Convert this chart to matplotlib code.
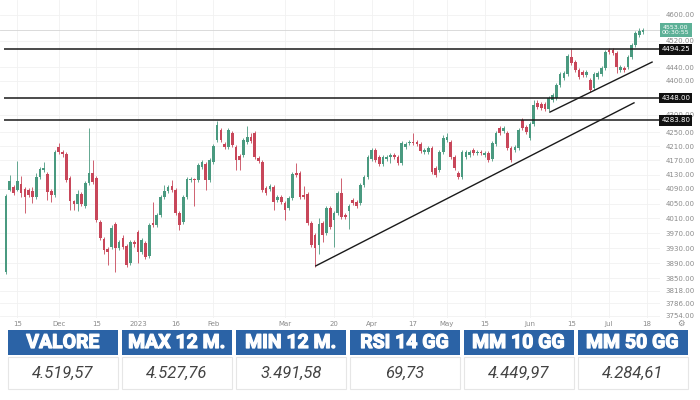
import numpy as np
import matplotlib
matplotlib.use("Agg")
import matplotlib.pyplot as plt
import matplotlib.transforms as mtransforms
import matplotlib.patheffects as pe
from matplotlib.patches import Rectangle
from matplotlib.ticker import FixedLocator, FixedFormatter, NullLocator

# daily candles (log price scale)
opens = [3867, 4087, 4096, 4087, 4104, 4090, 4087, 4085, 4068, 4123,
         4143, 4132, 4085, 4074, 4208, 4194, 4188, 4121, 4057, 4049,
         4076, 4043, 4107, 4135, 4121, 4000, 3954, 3928, 3933, 3995,
         3930, 3957, 3936, 3891, 3946, 3973, 3920, 3944, 3909, 3997,
         3992, 4019, 4068, 4085, 4098, 4087, 4024, 4000, 4068, 4115,
         4118, 4115, 4151, 4160, 4115, 4165, 4228, 4256, 4216, 4208,
         4248, 4208, 4182, 4185, 4222, 4236, 4248, 4177, 4165, 4093,
         4090, 4096, 4060, 4068, 4052, 4038, 4065, 4135, 4135, 4074,
         4076, 3997, 3965, 3938, 3997, 3970, 4038, 4005, 4024, 4079,
         4019, 4030, 4060, 4054, 4052, 4101, 4123, 4174, 4199, 4180,
         4160, 4174, 4180, 4185, 4180, 4163, 4208, 4219, 4222, 4222,
         4216, 4194, 4194, 4205, 4149, 4143, 4194, 4228, 4222, 4180,
         4135, 4123, 4180, 4185, 4199, 4191, 4194, 4185, 4191, 4174,
         4216, 4262, 4253, 4248, 4205, 4199, 4205, 4285, 4265, 4233,
         4274, 4335, 4332, 4332, 4317, 4343, 4349, 4388, 4408, 4420,
         4471, 4456, 4432, 4426, 4417, 4402, 4379, 4411, 4420, 4438,
         4492, 4492, 4483, 4432, 4438, 4441, 4471, 4508, 4538, 4547]
highs = [4076, 4129, 4101, 4168, 4126, 4095, 4093, 4096, 4135, 4152,
         4165, 4137, 4090, 4199, 4219, 4199, 4194, 4126, 4060, 4087,
         4082, 4112, 4262, 4171, 4126, 4005, 3960, 3933, 3992, 4000,
         3952, 3965, 3941, 3952, 3952, 3978, 3957, 3949, 3997, 4054,
         4024, 4074, 4101, 4101, 4115, 4093, 4030, 4074, 4123, 4123,
         4121, 4162, 4171, 4165, 4177, 4216, 4282, 4262, 4222, 4262,
         4253, 4214, 4188, 4233, 4268, 4248, 4253, 4182, 4171, 4098,
         4104, 4101, 4074, 4074, 4057, 4071, 4137, 4163, 4140, 4098,
         4082, 4003, 3970, 4011, 4003, 4044, 4044, 4030, 4085, 4121,
         4024, 4049, 4065, 4060, 4107, 4129, 4185, 4205, 4205, 4185,
         4185, 4185, 4191, 4191, 4185, 4225, 4222, 4228, 4248, 4228,
         4222, 4205, 4211, 4211, 4154, 4199, 4242, 4248, 4228, 4185,
         4140, 4199, 4199, 4199, 4205, 4199, 4199, 4196, 4196, 4225,
         4253, 4268, 4268, 4253, 4211, 4214, 4262, 4291, 4271, 4280,
         4343, 4343, 4338, 4338, 4355, 4364, 4394, 4426, 4429, 4480,
         4496, 4462, 4438, 4432, 4432, 4408, 4426, 4429, 4444, 4492,
         4498, 4498, 4489, 4447, 4444, 4477, 4514, 4550, 4560, 4560]
lows = [3862, 4084, 4074, 4084, 4068, 4024, 4068, 4052, 4063, 4118,
        4138, 4060, 4054, 4068, 4188, 4180, 4110, 4033, 4033, 4030,
        4044, 4038, 4101, 4104, 4000, 3952, 3915, 3886, 3928, 3867,
        3925, 3928, 3880, 3886, 3933, 3891, 3915, 3901, 3904, 3987,
        3987, 4014, 4063, 4079, 4082, 4019, 3978, 3995, 4063, 4110,
        4043, 4110, 4146, 4087, 4110, 4160, 4222, 4222, 4202, 4202,
        4208, 4143, 4143, 4180, 4216, 4219, 4174, 4163, 4082, 4074,
        4085, 4033, 4054, 4049, 4005, 4033, 4060, 4123, 4063, 4063,
        3992, 3933, 3880, 3915, 3946, 3965, 3981, 3933, 4019, 4008,
        4008, 3981, 4046, 4038, 4046, 4096, 4118, 4168, 4165, 4154,
        4154, 4168, 4163, 4174, 4157, 4157, 4202, 4214, 4214, 4211,
        4191, 4188, 4188, 4132, 4123, 4137, 4188, 4222, 4174, 4143,
        4118, 4118, 4174, 4180, 4185, 4185, 4185, 4180, 4165, 4168,
        4211, 4242, 4248, 4199, 4165, 4194, 4199, 4256, 4245, 4228,
        4268, 4317, 4314, 4311, 4311, 4337, 4343, 4382, 4402, 4414,
        4447, 4426, 4405, 4411, 4411, 4367, 4373, 4405, 4414, 4432,
        4480, 4477, 4423, 4426, 4426, 4435, 4465, 4502, 4532, 4541]
closes = [4071, 4112, 4079, 4112, 4079, 4068, 4074, 4068, 4123, 4146,
          4149, 4082, 4074, 4194, 4194, 4188, 4115, 4057, 4049, 4076,
          4049, 4107, 4135, 4110, 4005, 3957, 3925, 3920, 3984, 3930,
          3946, 3933, 3886, 3946, 3941, 3920, 3952, 3907, 3992, 3992,
          4019, 4068, 4085, 4096, 4087, 4024, 3992, 4068, 4118, 4118,
          4115, 4157, 4165, 4115, 4171, 4211, 4271, 4228, 4208, 4256,
          4214, 4171, 4171, 4228, 4236, 4225, 4180, 4168, 4087, 4079,
          4098, 4054, 4068, 4054, 4033, 4065, 4132, 4129, 4068, 4068,
          3997, 3938, 3930, 3995, 3965, 4038, 3987, 4024, 4079, 4014,
          4014, 4043, 4052, 4043, 4101, 4123, 4180, 4199, 4171, 4160,
          4180, 4180, 4185, 4180, 4163, 4219, 4216, 4222, 4219, 4216,
          4196, 4199, 4205, 4137, 4129, 4194, 4233, 4236, 4180, 4149,
          4123, 4194, 4194, 4194, 4191, 4194, 4191, 4191, 4171, 4219,
          4248, 4248, 4262, 4205, 4171, 4208, 4256, 4262, 4251, 4274,
          4329, 4323, 4320, 4317, 4349, 4358, 4388, 4420, 4423, 4474,
          4453, 4432, 4411, 4417, 4426, 4373, 4420, 4423, 4438, 4486,
          4486, 4483, 4441, 4441, 4432, 4471, 4508, 4544, 4550, 4553]

# date labels on the x axis (candle index, text)
date_pos = [3, 14, 24, 35, 45, 55, 74, 87, 97, 108, 117, 127, 139, 150, 160, 170]
date_lbl = ["15", "Dec", "15", "2023", "16", "Feb", "Mar", "20", "Apr", "17",
            "May", "15", "Jun", "15", "Jul", "18"]

price_ticks = [4600, 4520, 4440, 4400, 4300, 4250, 4210, 4170, 4130, 4090,
               4050, 4010, 3970, 3930, 3890, 3850, 3818, 3786, 3754]

# support / resistance levels and trend lines drawn on the chart
levels = [4494.25, 4348.00, 4283.80]
trend_a_x = [82.2, 166.6]
trend_a_y = [3883, 4335]
trend_b_x = [144.3, 171.4]
trend_b_y = [4308, 4456]

# stats table
head = ["VALORE", "MAX 12 M.", "MIN 12 M.", "RSI 14 GG", "MM 10 GG", "MM 50 GG"]
vals = ["4.519,57", "4.527,76", "3.491,58", "69,73", "4.449,97", "4.284,61"]

GREEN = "#4a9a80"
RED = "#c8475a"
BLUE = "#2b63a6"

fig = plt.figure(figsize=(7, 4), dpi=100)
fig.patch.set_facecolor("white")
ax = fig.add_axes([0, 1 - 318 / 400, 660 / 700, 318 / 400])
ax.set_yscale("log")

o, h, l, c = map(np.array, (opens, highs, lows, closes))
x = np.arange(len(o))
col = np.where(c >= o, GREEN, RED)
ax.vlines(x, l, h, colors=col, linewidth=0.6, zorder=2)
body = np.maximum(np.abs(c - o), 2.0)
ax.bar(x, body, bottom=np.minimum(o, c), width=0.7, color=col, linewidth=0, zorder=3)

ax.set_xlim(-1.6, 173.5)
ax.set_ylim(3748.6, 4646.8)

# last price line
ax.axhline(closes[-1], color="#d4d4d4", lw=0.6, zorder=1)

ax.hlines(levels, -0.6, 173.5, color="#1a1a1a", lw=1.1, zorder=4)
ax.plot(trend_a_x, trend_a_y, color="#1a1a1a", lw=1.0, zorder=4)
ax.plot(trend_b_x, trend_b_y, color="#1a1a1a", lw=1.0, zorder=4)

ax.yaxis.tick_right()
ax.yaxis.set_major_locator(FixedLocator(price_ticks))
ax.yaxis.set_minor_locator(NullLocator())
ax.yaxis.set_major_formatter(FixedFormatter([f"{v:.2f}" for v in price_ticks]))
ax.yaxis.set_minor_formatter(FixedFormatter([]))
ax.set_xticks(date_pos)
ax.set_xticklabels(date_lbl)
ax.tick_params(axis="y", length=0, pad=4, labelsize=5, labelcolor="#8a8a8a")
ax.tick_params(axis="x", length=0, pad=2.5, labelsize=5, labelcolor="#8a8a8a")
for s in ax.spines.values():
    s.set_visible(False)
ax.grid(True, color="#f1f1f1", lw=0.6, zorder=0)
ax.set_axisbelow(True)

trans = mtransforms.blended_transform_factory(ax.transAxes, ax.transData)
for lv in levels:
    ax.text(1.024, lv, f"{lv:.2f}", transform=trans, ha="center", va="center",
            fontsize=5, color="white", clip_on=False, zorder=6,
            bbox=dict(boxstyle="square,pad=0.3", fc="#111111", ec="none"))
ax.text(1.024, closes[-1], f"{closes[-1]:.2f}\n00:30:55", transform=trans,
        ha="center", va="center", fontsize=4.5, color="white", clip_on=False,
        zorder=6, linespacing=1.1,
        bbox=dict(boxstyle="square,pad=0.3", fc="#5cb096", ec="none"))
fig.text(681 / 700, 1 - 323 / 400, "\u2699", fontsize=6, color="#8a8a8a",
         ha="center", va="center")

# table below the chart, in pixel coordinates
tab = fig.add_axes([0, 0, 1, 1], zorder=5)
tab.set_xlim(0, 700)
tab.set_ylim(400, 0)
tab.axis("off")
tab.patch.set_alpha(0)
thick = [pe.withStroke(linewidth=0.9, foreground="white")]
for k in range(len(head)):
    left = 8 + k * 113.9
    tab.add_patch(Rectangle((left, 330), 110, 25, fc=BLUE, ec="none"))
    tab.text(left + 55, 343, head[k], ha="center", va="center", color="white",
             fontsize=14, fontweight="bold", family="Roboto", path_effects=thick)
    tab.add_patch(Rectangle((left, 357), 110, 32, fc="white", ec="#e6e6e6", lw=0.8))
    tab.text(left + 55, 373.5, vals[k], ha="center", va="center", color="#444444",
             fontsize=12, fontstyle="italic", family="Roboto")

fig.savefig("out.png", dpi=100)
